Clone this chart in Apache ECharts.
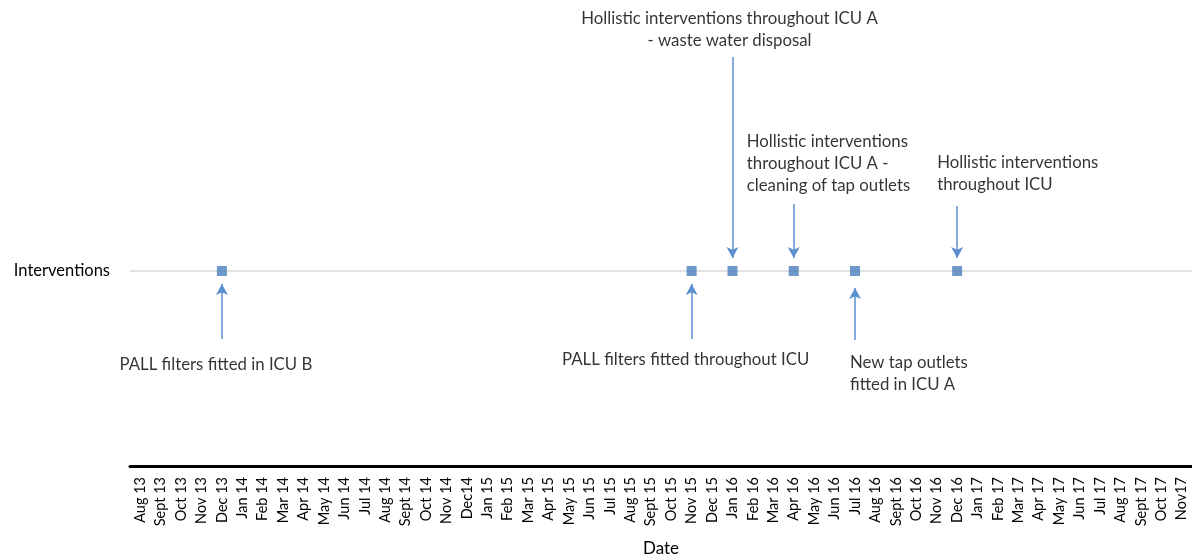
<!DOCTYPE html>
<html>
<head>
<meta charset="utf-8">
<script src="https://cdn.jsdelivr.net/npm/echarts@6/dist/echarts.min.js"></script>
<style>html,body{margin:0;padding:0;background:#fff}#c{width:1192px;height:560px}</style>
</head>
<body>
<div id="c"></div>
<script>
// ---- data ----
const months = ['Aug 13','Sept 13','Oct 13','Nov 13','Dec 13',
  'Jan 14','Feb 14','Mar 14','Apr 14','May 14','Jun 14','Jul 14','Aug 14','Sept 14','Oct 14','Nov 14','Dec14',
  'Jan 15','Feb 15','Mar 15','Apr 15','May 15','Jun 15','Jul 15','Aug 15','Sept 15','Oct 15','Nov 15','Dec 15',
  'Jan 16','Feb 16','Mar 16','Apr 16','May 16','Jun 16','Jul 16','Aug 16','Sept 16','Oct 16','Nov 16','Dec 16',
  'Jan 17','Feb 17','Mar 17','Apr 17','May 17','Jun 17','Jul 17','Aug 17','Sept 17','Oct 17','Nov17'];
const yCategory = 'Interventions';
const interventionDates = ['Dec 13','Nov 15','Jan 16','Apr 16','Jul 16','Dec 16'];
const annotationTexts = [
  'PALL filters fitted in ICU B',
  'PALL filters fitted throughout ICU',
  'Hollistic interventions throughout ICU A\n- waste water disposal',
  'Hollistic interventions\nthroughout ICU A -\ncleaning of tap outlets',
  'New tap outlets\nfitted in ICU A',
  'Hollistic interventions\nthroughout ICU'
];

// ---- layout (positions in axis units / pixels) ----
const layout = [
  {from:0.651, to:0.933, ty:0.518, align:'center', off:[-6,0]},
  {from:0.651, to:0.933, ty:0.544, align:'center', off:[-6,0]},
  {from:2.097, to:1.067, ty:2.236, align:'center', off:[-3,0]},
  {from:1.344, to:1.067, ty:1.551, align:'left',   off:[-47,0]},
  {from:0.646, to:0.913, ty:0.472, align:'left',   off:[-5,0]},
  {from:1.333, to:1.067, ty:1.497, align:'left',   off:[-20,0]}
];
const FONT = 'Lato';
const arrowColor = '#5b8fd0';

const chart = echarts.init(document.getElementById('c'));
chart.setOption({
  animation: false,
  textStyle: {fontFamily: FONT},
  grid: {left: 130, right: 0, top: 17.5, bottom: 94, outerBoundsMode: 'none', containLabel: false},
  xAxis: {
    type: 'category', data: months,
    axisLine: {lineStyle: {color: '#000', width: 3}},
    axisTick: {show: false},
    axisLabel: {rotate: 90, interval: 0, fontSize: 14.5, color: '#000', margin: 11, fontFamily: FONT},
    name: 'Date', nameLocation: 'middle', nameGap: 74,
    nameTextStyle: {fontSize: 17, color: '#000', fontFamily: FONT}
  },
  yAxis: {
    type: 'value', min: 0, max: 2.3, interval: 1,
    axisLine: {show: false}, axisTick: {show: false},
    axisLabel: {formatter: v => v === 1 ? yCategory : '', fontSize: 16.5, color: '#000', margin: 20, fontFamily: FONT},
    splitLine: {show: true, lineStyle: {color: ['rgba(0,0,0,0)','#d9d9d9','rgba(0,0,0,0)','rgba(0,0,0,0)'], width: 1.5}}
  },
  series: [
    {
      type: 'scatter', name: yCategory,
      symbol: 'rect', symbolSize: 10,
      itemStyle: {color: '#4a7ebb'},
      data: interventionDates.map(d => [d, 1]),
      markLine: {
        silent: true, animation: false,
        symbol: ['none', 'arrow'], symbolSize: [9, 11],
        lineStyle: {color: arrowColor, width: 1.5, type: 'solid'},
        label: {show: false},
        data: interventionDates.map((d, i) => [
          {coord: [d, layout[i].from]},
          {coord: [d, layout[i].to]}
        ])
      },
      z: 3
    },
    {
      type: 'scatter', name: 'annotations',
      symbolSize: 0, silent: true,
      data: interventionDates.map((d, i) => ({
        value: [d, layout[i].ty],
        label: {
          show: true, formatter: annotationTexts[i],
          position: 'inside', align: layout[i].align, verticalAlign: 'middle',
          offset: layout[i].off,
          fontSize: 16.8, lineHeight: 22, color: '#000', fontFamily: FONT
        }
      }))
    }
  ]
});
</script>
</body>
</html>
